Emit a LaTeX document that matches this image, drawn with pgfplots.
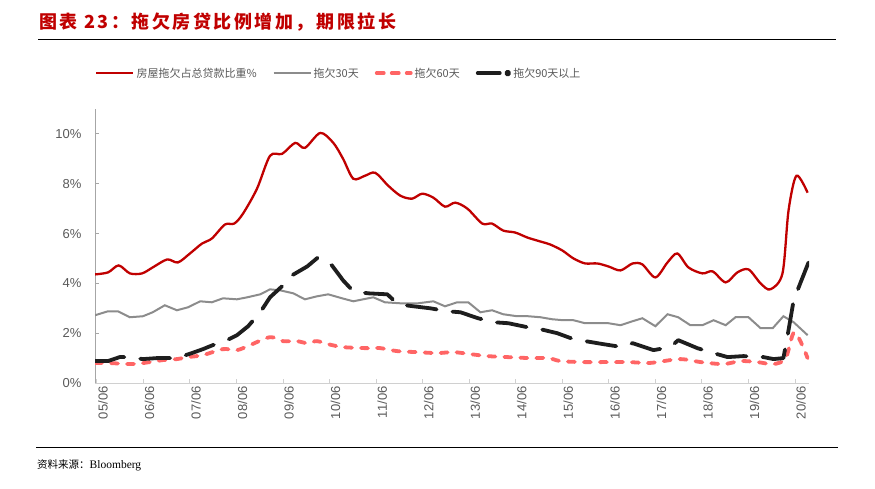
\documentclass[border=0pt]{standalone}
\usepackage{fontspec}
\usepackage{pgfplots}
\pgfplotsset{compat=1.18}
\setmainfont{Liberation Sans}
\newfontfamily\cjk{Noto Sans CJK SC}
\newfontfamily\cjktitle{Noto Sans CJK SC}[LetterSpace=14]
\newfontfamily\serif{Liberation Serif}

\definecolor{cred}{HTML}{C00000}
\definecolor{cgray}{HTML}{8C8C8C}
\definecolor{cpink}{HTML}{FF6565}
\definecolor{cblack}{HTML}{1E1E1E}
\definecolor{ctext}{HTML}{595959}
\definecolor{cyaxis}{HTML}{A6A6A6}
\definecolor{cxaxis}{HTML}{D0D0D0}

\begin{document}
\begin{tikzpicture}
\useasboundingbox (0,0) rectangle (875pt,488pt);
% title and rules
\node[anchor=west, inner sep=0pt, text=cred, font=\cjktitle\bfseries\fontsize{18}{20}\selectfont] at (39pt,466pt) {图表 23：拖欠房贷比例增加，期限拉长};
\draw[line width=1pt] (38pt,448pt) -- (836pt,448pt);
\draw[line width=1pt] (36pt,41pt) -- (838pt,41pt);
\node[anchor=west, inner sep=0pt] at (37pt,23pt) {{\cjk\fontsize{10.5}{12}\selectfont 资料来源：}{\serif\fontsize{11.5}{13}\selectfont Bloomberg}};

 \begin{axis}[
  at={(95pt,105pt)}, anchor=south west,
  width=714pt, height=274pt, scale only axis,
  xmin=4.96, xmax=20.3,
  ymin=0, ymax=11,
  axis x line*=bottom, axis y line*=left,
  x axis line style={cxaxis, line width=1pt},
  y axis line style={cyaxis, line width=1pt},
  tick align=inside,
  major tick length=4pt,
  xtick={5,...,20},
  xticklabels={05/06,06/06,07/06,08/06,09/06,10/06,11/06,12/06,13/06,14/06,15/06,16/06,17/06,18/06,19/06,20/06},
  xtick style={cxaxis, line width=1pt},
  ytick={0,2,...,10},
  ytick style={cyaxis, line width=1pt},
  yticklabel={\pgfmathprintnumber{\tick}\%},
  /pgf/number format/assume math mode=true,
  tick label style={font=\fontsize{13}{15}\selectfont, text=ctext},
  x tick label style={rotate=90, anchor=east, yshift=-6pt},
  y tick label style={xshift=-10pt},
  legend style={
   at={(0,1.131)}, anchor=west,
   draw=none, fill=none,
   inner xsep=0pt,
   legend columns=4,
   font=\cjk\fontsize{11}{13}\selectfont,
   text=ctext,
   /tikz/every even column/.append style={column sep=14pt}
  },
  legend cell align=left,
 ]
  \addplot[cred, line width=2.3pt, smooth, tension=0.5,
   legend image code/.code={\draw[cred, line width=2.3pt] (0pt,0pt) -- (37pt,0pt);}]
   coordinates {
   (4.96,4.36) (5.24,4.44) (5.47,4.72) (5.71,4.40) (5.97,4.40) (6.20,4.64)
   (6.51,4.96) (6.74,4.84) (7.00,5.20) (7.26,5.60) (7.47,5.80) (7.75,6.36)
   (7.95,6.40) (8.14,6.80) (8.44,7.80) (8.72,9.12) (8.98,9.20) (9.26,9.64)
   (9.47,9.44) (9.80,10.04) (10.08,9.64) (10.29,9.00) (10.51,8.20) (10.76,8.32)
   (10.98,8.44) (11.26,7.92) (11.52,7.52) (11.77,7.40) (11.99,7.60) (12.23,7.44)
   (12.48,7.08) (12.70,7.24) (12.96,7.00) (13.28,6.40) (13.49,6.40) (13.73,6.12)
   (13.99,6.04) (14.25,5.84) (14.53,5.68) (14.74,5.56) (15.00,5.32) (15.24,5.00)
   (15.49,4.80) (15.75,4.80) (15.99,4.68) (16.25,4.52) (16.51,4.80) (16.72,4.76)
   (17.00,4.24) (17.26,4.84) (17.47,5.20) (17.71,4.64) (18.01,4.40) (18.23,4.48)
   (18.51,4.04) (18.76,4.44) (19.00,4.56) (19.26,4.00) (19.47,3.76) (19.73,4.40)
   (19.86,6.92) (20.03,8.32) (20.27,7.64)
  };
  \addplot[cgray, line width=2pt,
   legend image code/.code={\draw[cgray, line width=2pt] (0pt,0pt) -- (37pt,0pt);}]
   coordinates {
   (4.96,2.72) (5.24,2.88) (5.45,2.88) (5.71,2.64) (5.99,2.68) (6.20,2.84)
   (6.46,3.12) (6.72,2.92) (6.96,3.04) (7.22,3.28) (7.47,3.24) (7.71,3.40)
   (8.01,3.36) (8.23,3.44) (8.51,3.56) (8.72,3.76) (8.94,3.72) (9.22,3.60)
   (9.47,3.36) (9.73,3.48) (9.97,3.56) (10.27,3.40) (10.51,3.28) (10.72,3.36)
   (10.94,3.44) (11.19,3.24) (11.52,3.20) (11.90,3.20) (12.23,3.28) (12.48,3.08)
   (12.74,3.24) (12.98,3.24) (13.24,2.84) (13.49,2.92) (13.73,2.76) (14.03,2.68)
   (14.27,2.68) (14.53,2.64) (14.78,2.56) (15.02,2.52) (15.24,2.52) (15.49,2.40)
   (15.99,2.40) (16.25,2.32) (16.51,2.48) (16.72,2.60) (17.00,2.28) (17.26,2.76)
   (17.49,2.64) (17.75,2.32) (18.01,2.32) (18.25,2.52) (18.51,2.32) (18.72,2.64)
   (19.00,2.64) (19.26,2.20) (19.52,2.20) (19.75,2.68) (19.97,2.44) (20.27,1.92)
  };
  \addplot[cpink, line width=3.8pt, smooth, tension=0.5, line cap=round,
   dash pattern=on 7pt off 9pt,
   legend image code/.code={\draw[cpink, line width=3.8pt, line cap=round, dash pattern=on 7pt off 8pt] (2pt,0pt) -- (36pt,0pt);}]
   coordinates {
   (4.96,0.80) (5.28,0.80) (5.71,0.76) (5.99,0.80) (6.42,0.92) (6.72,0.96)
   (6.96,1.04) (7.28,1.12) (7.71,1.36) (8.01,1.32) (8.29,1.52) (8.72,1.84)
   (9.00,1.68) (9.30,1.68) (9.52,1.60) (9.73,1.68) (10.01,1.54) (10.29,1.44)
   (10.76,1.40) (11.09,1.40) (11.45,1.28) (11.88,1.24) (12.31,1.20) (12.66,1.24)
   (13.02,1.16) (13.39,1.08) (13.82,1.04) (14.31,1.00) (14.70,1.00) (14.96,0.88)
   (15.45,0.84) (15.97,0.84) (16.42,0.84) (16.83,0.80) (17.04,0.84) (17.54,0.96)
   (17.97,0.84) (18.46,0.76) (18.83,0.88) (19.19,0.84) (19.54,0.76) (19.80,1.00)
   (19.99,2.04) (20.27,1.00)
  };
  \addplot[cblack, line width=3.8pt, line cap=round, line join=round,
   dash pattern=on 30pt off 16pt,
   legend image code/.code={\draw[cblack, line width=3.8pt, line cap=round] (2pt,0pt) -- (24pt,0pt); \fill[cblack] (32pt,0pt) circle (1.6pt);}]
   coordinates {
   (4.96,0.88) (5.24,0.88) (5.49,1.04) (5.65,1.04) (5.99,0.96) (6.29,1.00)
   (6.72,1.00) (7.04,1.20) (7.28,1.36) (7.49,1.52) (7.71,1.64) (8.01,1.92)
   (8.25,2.28) (8.51,2.84) (8.72,3.44) (9.00,3.92) (9.19,4.32) (9.52,4.68)
   (9.75,5.04) (10.05,4.72) (10.29,4.12) (10.51,3.68) (10.83,3.60) (11.24,3.56)
   (11.47,3.16) (11.80,3.08) (12.16,3.00) (12.53,2.88) (12.81,2.84) (13.19,2.60)
   (13.52,2.44) (13.84,2.40) (14.25,2.24) (14.53,2.16) (14.89,2.00) (15.24,1.76)
   (15.88,1.56) (16.29,1.44) (16.51,1.60) (16.96,1.32) (17.32,1.44) (17.49,1.72)
   (17.90,1.40) (18.25,1.20) (18.55,1.04) (18.89,1.08) (19.32,1.04) (19.54,0.96)
   (19.75,1.00) (19.86,2.12) (19.97,3.32) (20.12,4.04) (20.29,4.84)
  };
  \legend{房屋拖欠占总贷款比重\%, 拖欠30天, 拖欠60天, 拖欠90天以上}
 \end{axis}
\end{tikzpicture}
\end{document}
